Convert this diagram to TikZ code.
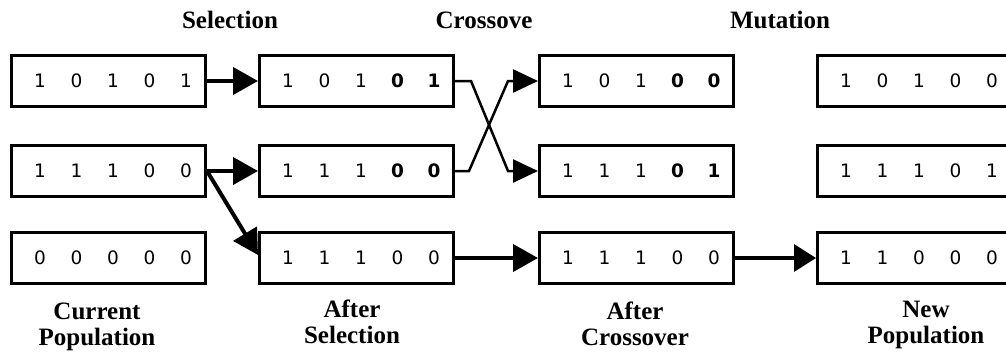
\documentclass[tikz,border=0pt]{standalone}
\usepackage{fontspec}
\setmainfont{DejaVu Sans}
\newfontfamily\labfont{Liberation Serif}
\usetikzlibrary{arrows.meta}

% five bits, spread evenly inside a chromosome box
\newcommand\bitrow[5]{\hspace*{9pt}\makebox[36.5pt]{#1}\makebox[36.5pt]{#2}\makebox[36.5pt]{#3}\makebox[36.5pt]{#4}\makebox[36.5pt]{#5}}
\newcommand\hb[1]{\textbf{#1}}

\tikzset{
  chrom/.style={draw, line width=3pt, minimum width=194pt, minimum height=51pt,
    inner sep=0pt, font=\fontsize{18.5}{18.5}\selectfont},
  lab/.style={font=\labfont\bfseries\fontsize{25}{25.5}\selectfont, align=center, inner sep=0pt},
  heavy/.style={line width=4pt, -{Triangle[length=25pt,width=27pt]}},
  xline/.style={line width=2.5pt, -{Triangle[length=25pt,width=23pt]}},
  light/.style={line width=3.5pt, -{Triangle[length=22pt,width=27pt]}},
}

\begin{document}
\begin{tikzpicture}[x=1pt, y=-1pt]
  \useasboundingbox (0,0) rectangle (1006,357);
  \clip (0,0) rectangle (1006,357);

  % stage headings
  \node[lab, anchor=base] (hsel) at (230,28) {Selection};
  \node[lab, anchor=base] (hcro) at (484,28) {Crossove};
  \node[lab, anchor=base] (hmut) at (780,28) {Mutation};

  % current population
  \node[chrom] (p1) at (108.5,81)  {\bitrow{1}{0}{1}{0}{1}};
  \node[chrom] (p2) at (108.5,171) {\bitrow{1}{1}{1}{0}{0}};
  \node[chrom] (p3) at (108.5,258) {\bitrow{0}{0}{0}{0}{0}};

  % after selection
  \node[chrom] (s1) at (356.5,81)  {\bitrow{1}{0}{1}{\hb{0}}{\hb{1}}};
  \node[chrom] (s2) at (356.5,171) {\bitrow{1}{1}{1}{\hb{0}}{\hb{0}}};
  \node[chrom] (s3) at (356.5,258) {\bitrow{1}{1}{1}{0}{0}};

  % after crossover
  \node[chrom] (c1) at (636.5,81)  {\bitrow{1}{0}{1}{\hb{0}}{\hb{0}}};
  \node[chrom] (c2) at (636.5,171) {\bitrow{1}{1}{1}{\hb{0}}{\hb{1}}};
  \node[chrom] (c3) at (636.5,258) {\bitrow{1}{1}{1}{0}{0}};

  % new population
  \node[chrom] (n1) at (914.5,81)  {\bitrow{1}{0}{1}{0}{0}};
  \node[chrom] (n2) at (914.5,171) {\bitrow{1}{1}{1}{0}{1}};
  \node[chrom] (n3) at (914.5,258) {\bitrow{1}{1}{0}{0}{0}};

  % column captions (base anchor sits on the last line)
  \node[lab, anchor=base] (l1) at (97,345)  {Current\\Population};
  \node[lab, anchor=base] (l2) at (352,343) {After\\Selection};
  \node[lab, anchor=base] (l3) at (635,345) {After\\Crossover};
  \node[lab, anchor=base] (l4) at (926,343) {New\\Population};

  % selection
  \draw[heavy] (p1.east) -- (s1.west);
  \draw[heavy] (p2.east) -- (s2.west);
  \draw[heavy] (p2.east) -- ([yshift=3pt]s3.west);

  % crossover
  \draw[xline] (s1.east) -- ++(16,0) -- ([xshift=-30pt]c2.west) -- (c2.west);
  \draw[xline] (s2.east) -- ++(14,0) -- ([xshift=-30pt]c1.west) -- (c1.west);
  \draw[heavy] (s3.east) -- (c3.west);

  % mutation
  \draw[light] (c3.east) -- (n3.west);
\end{tikzpicture}
\end{document}
